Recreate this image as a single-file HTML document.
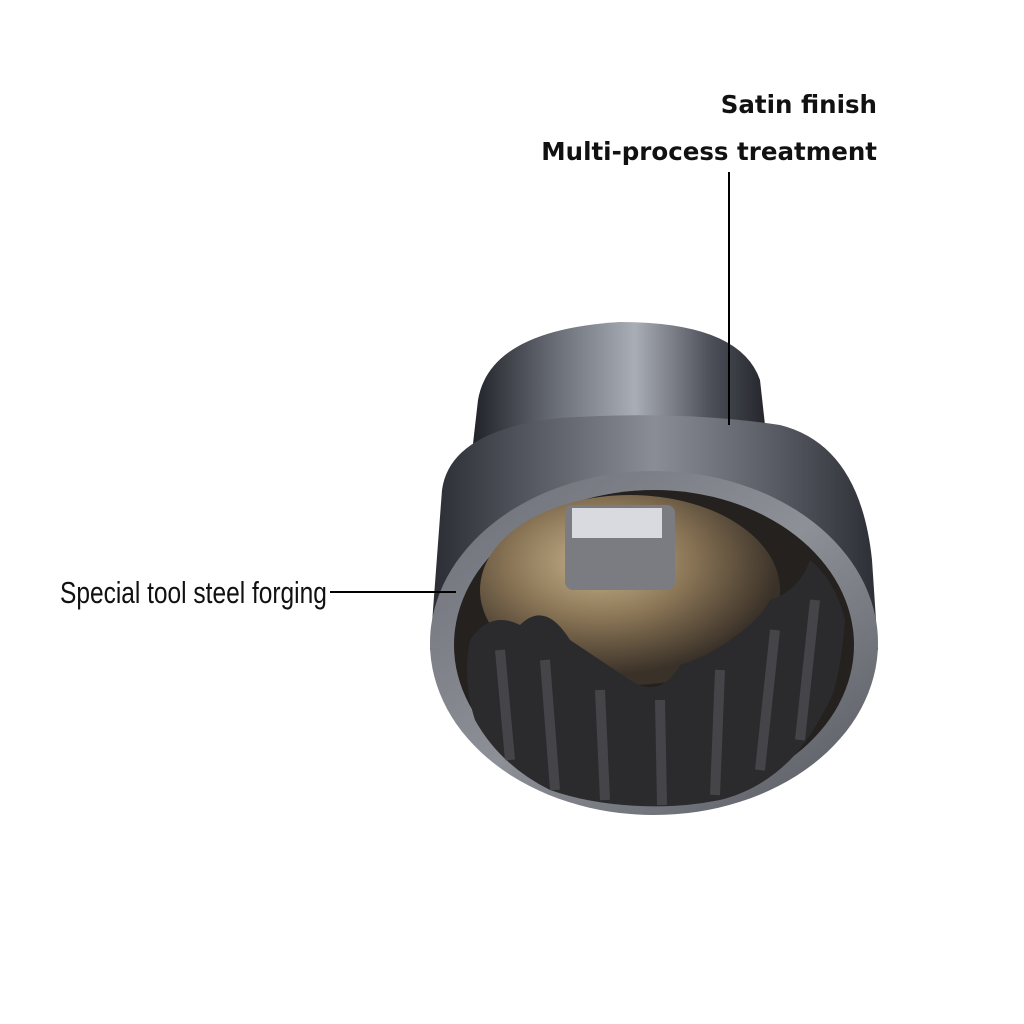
<!DOCTYPE html>
<html><head><style>
html,body{margin:0;padding:0;background:#fff;width:1024px;height:1024px;overflow:hidden}
.t{position:absolute;font-family:"DejaVu Sans","Liberation Sans",sans-serif;font-weight:bold;color:#111;font-size:24.5px;white-space:nowrap}
.c{position:absolute;font-family:"Liberation Sans",sans-serif;color:#111;font-size:31px;transform:scaleX(0.79);transform-origin:left top;white-space:nowrap}
</style></head><body>
<svg width="1024" height="1024" style="position:absolute;left:0;top:0">
<defs>
<linearGradient id="body" x1="0" x2="1" y1="0" y2="0">
<stop offset="0" stop-color="#2a2c33"/><stop offset="0.25" stop-color="#5a5d66"/>
<stop offset="0.5" stop-color="#8a8d96"/><stop offset="0.75" stop-color="#5c5f68"/><stop offset="1" stop-color="#2c2e35"/>
</linearGradient>
<linearGradient id="top" x1="0" x2="1">
<stop offset="0" stop-color="#1e2026"/><stop offset="0.3" stop-color="#6d717a"/>
<stop offset="0.55" stop-color="#a9adb5"/><stop offset="0.8" stop-color="#4d5059"/><stop offset="1" stop-color="#222329"/>
</linearGradient>
<radialGradient id="inner" cx="0.4" cy="0.35" r="0.6">
<stop offset="0" stop-color="#c9b48e"/><stop offset="0.5" stop-color="#8a7556"/><stop offset="1" stop-color="#3a3128"/>
</radialGradient>
<linearGradient id="rim" x1="0" x2="1" y1="0" y2="1">
<stop offset="0" stop-color="#6b6e76"/><stop offset="0.5" stop-color="#8e9098"/><stop offset="1" stop-color="#55575f"/>
</linearGradient>
</defs>
<path d="M478 400 Q490 330 620 322 Q740 322 760 380 L770 470 L470 470 Z" fill="url(#top)"/>
<path d="M442 490 Q450 430 560 418 Q680 410 780 425 Q860 445 872 560 L878 650 L430 650 Z" fill="url(#body)"/>
<ellipse cx="654" cy="643" rx="224" ry="172" fill="url(#rim)"/>
<ellipse cx="654" cy="645" rx="200" ry="155" fill="#24211f"/>
<ellipse cx="630" cy="590" rx="150" ry="95" fill="url(#inner)"/>
<rect x="565" y="505" width="110" height="85" rx="8" fill="#7a7c82"/>
<rect x="572" y="508" width="90" height="30" fill="#d8dadf"/>
<path d="M470 640 Q490 610 520 625 Q545 600 570 640 Q600 660 630 680 Q660 700 680 665 Q710 655 730 640 Q760 620 770 600 Q800 590 810 560 Q835 580 845 620 Q840 680 830 700 Q810 740 790 760 Q760 790 720 800 Q680 808 640 806 Q590 804 550 790 Q500 765 475 720 Q462 680 470 640Z" fill="#2b2b2e"/>
<g stroke="#55565c" stroke-width="10" opacity="0.6">
<line x1="500" y1="650" x2="510" y2="760"/><line x1="545" y1="660" x2="555" y2="790"/>
<line x1="600" y1="690" x2="605" y2="800"/><line x1="660" y1="700" x2="662" y2="805"/>
<line x1="720" y1="670" x2="715" y2="795"/><line x1="775" y1="630" x2="760" y2="770"/>
<line x1="815" y1="600" x2="800" y2="740"/>
</g>
<line x1="729" y1="172" x2="729" y2="425" stroke="#000" stroke-width="2"/>
<line x1="330" y1="592" x2="456" y2="592" stroke="#000" stroke-width="2"/>
</svg>
<div class="t" style="right:147px;top:90px">Satin finish</div>
<div class="t" style="right:147px;top:137px">Multi-process treatment</div>
<div class="c" style="left:60px;top:575px">Special tool steel forging</div>
</body></html>
